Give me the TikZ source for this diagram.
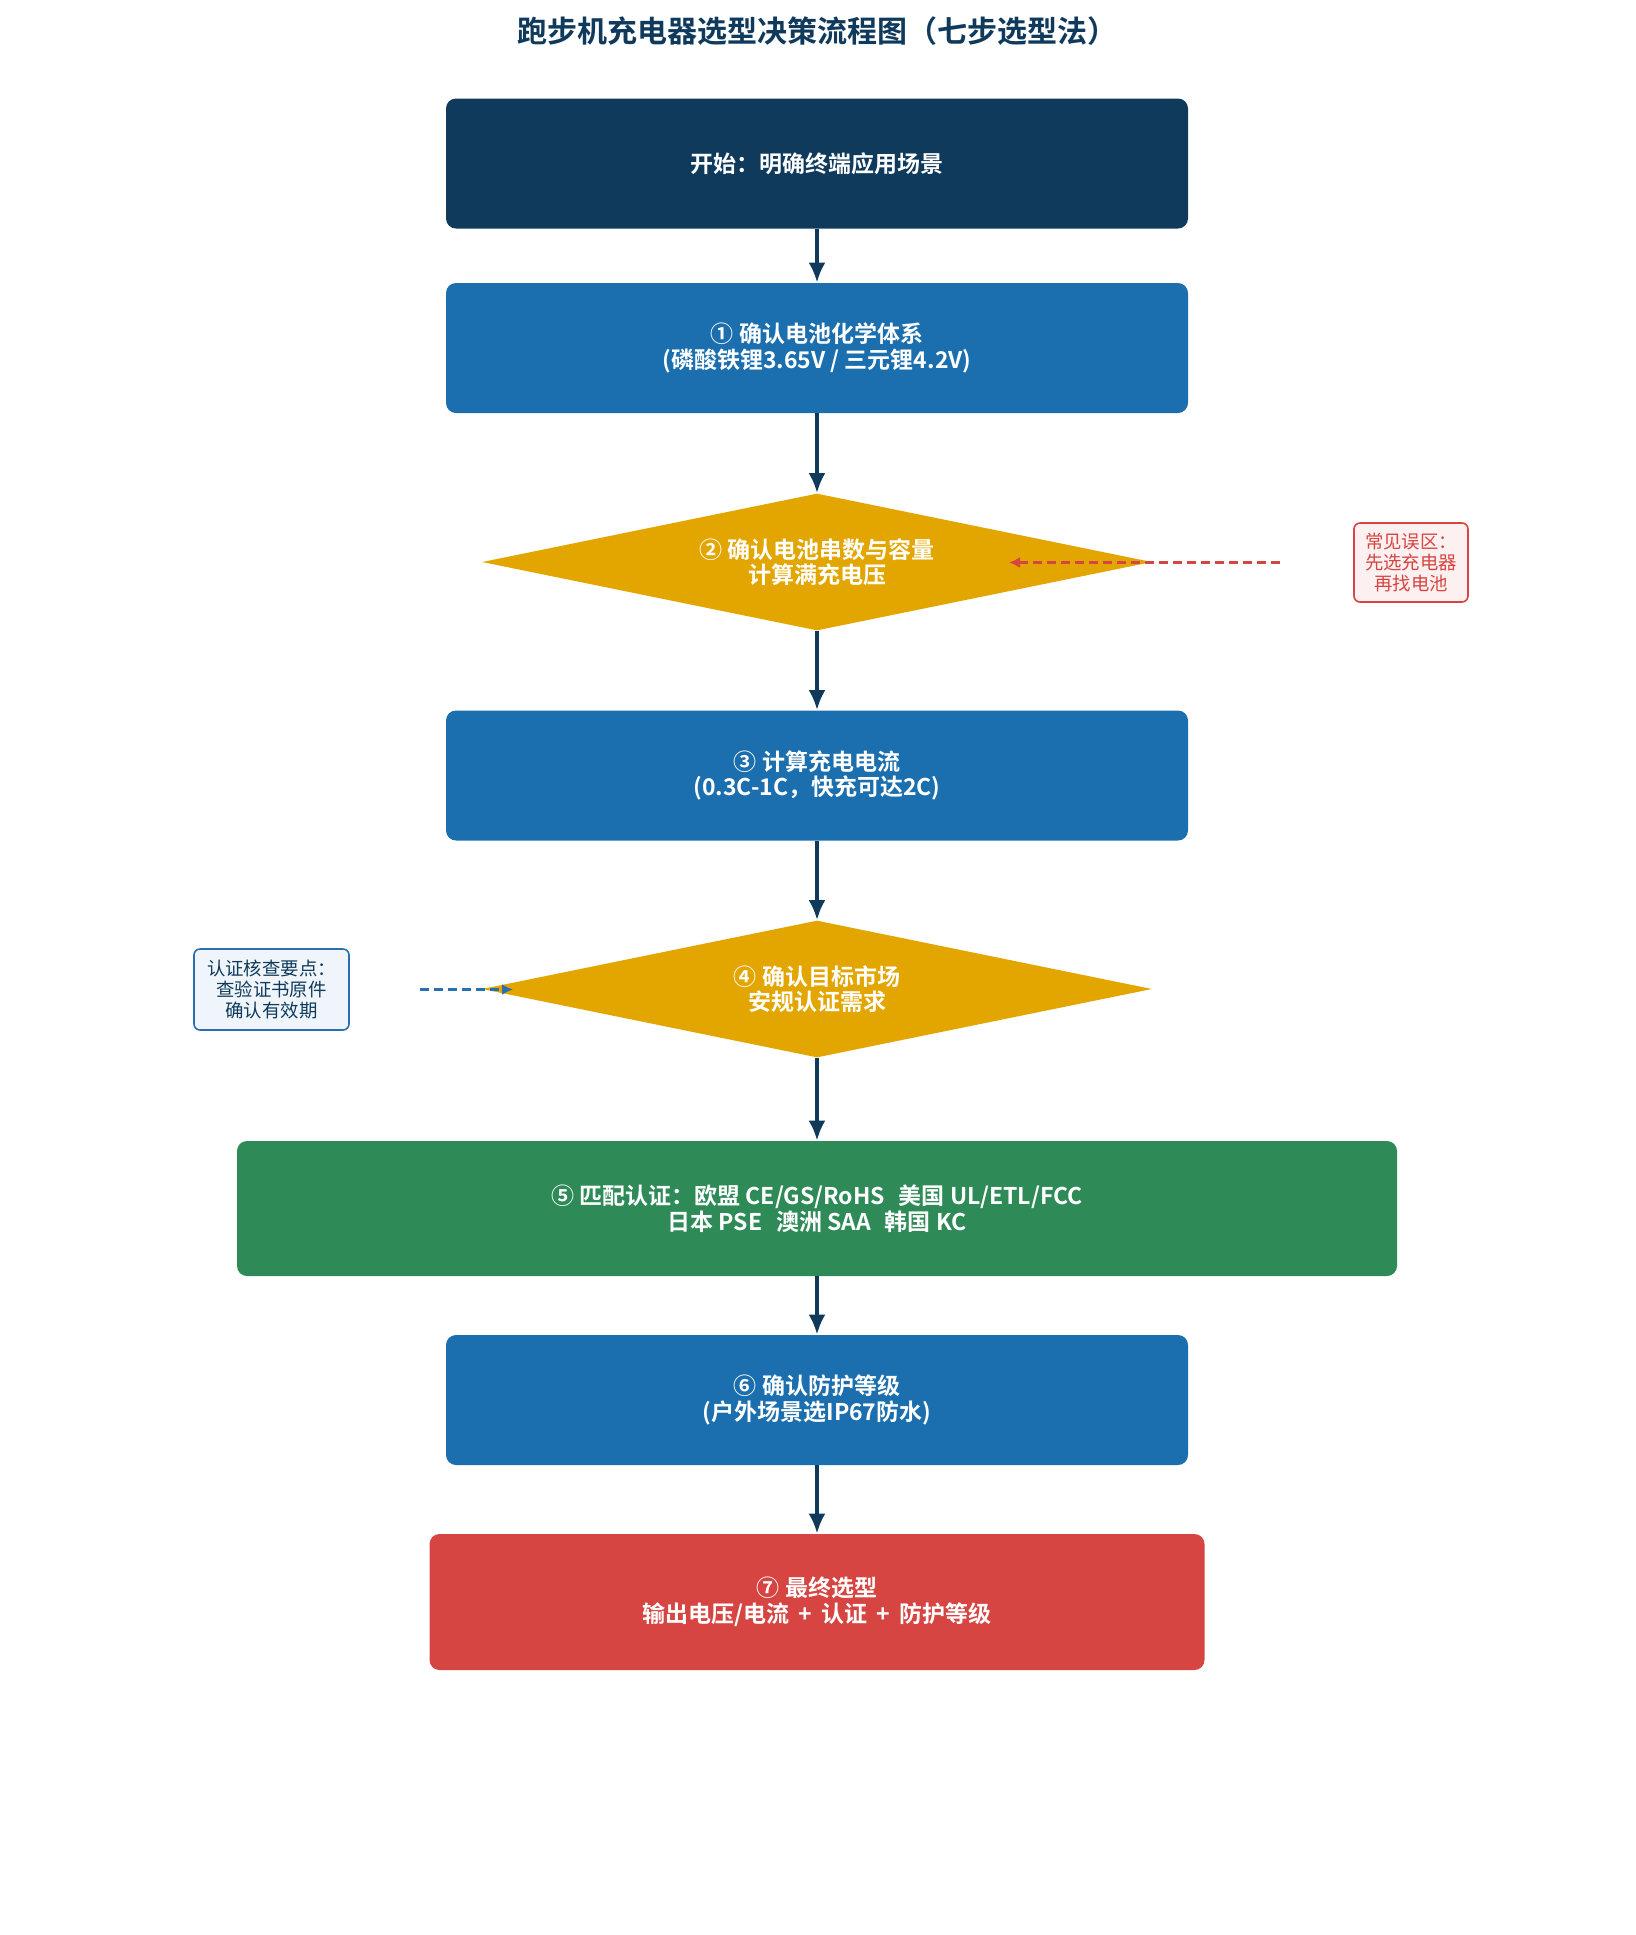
\documentclass[tikz,border=0pt]{standalone}
\usepackage{fontspec}
\setmainfont{Noto Sans CJK SC}[BoldFont={Noto Sans CJK SC Bold}]
\usetikzlibrary{shapes.geometric,arrows.meta}
\definecolor{navy}{HTML}{0F3A5C}
\definecolor{stepblue}{HTML}{1C6FAE}
\definecolor{gold}{HTML}{E3A600}
\definecolor{certgreen}{HTML}{2E8B57}
\definecolor{alertred}{HTML}{D64541}
\definecolor{notepink}{HTML}{FDF0F0}
\definecolor{noteblue}{HTML}{EFF5FA}
\definecolor{noteline}{HTML}{2A6FAF}
\begin{document}
\begin{tikzpicture}[
      x=0.5pt,y=-0.5pt,
      >={Latex[length=10pt,width=8.5pt]},
      box/.style={
        rounded corners=5pt,minimum width=371pt,minimum height=65pt,
        inner sep=0pt,align=center,text=white,
        font=\bfseries\fontsize{11.5}{12.8}\selectfont
      },
      decision/.style={
        diamond,fill=gold,shape aspect=4.89,minimum width=335pt,minimum height=68.5pt,
        inner sep=0pt,align=center,text=white,
        font=\bfseries\fontsize{11.5}{12.8}\selectfont
      },
      note/.style={
        draw,line width=0.8pt,rounded corners=3pt,inner sep=0pt,
        align=center,font=\fontsize{9.2}{10.6}\selectfont
      },
      flow/.style={line width=1.75pt,->,draw=navy},
      hint/.style={line width=1.4pt,-{Latex[length=5.5pt,width=5.5pt]},dash pattern=on 4.5pt off 2.5pt},
    ]
    \useasboundingbox (0,0) rectangle (1635,1935);
    \node[font=\bfseries\fontsize{15}{16}\selectfont,text=navy] (title) at (817,31)
      {跑步机充电器选型决策流程图（七步选型法）};
    \node[box,fill=navy] (start) at (817,163.5) {开始：明确终端应用场景};
    \node[box,fill=stepblue] (s1) at (817,348)
      {① 确认电池化学体系\\(磷酸铁锂3.65V / 三元锂4.2V)};
    \node[decision] (s2) at (817,562) {② 确认电池串数与容量\\计算满充电压};
    \node[box,fill=stepblue] (s3) at (817,775.5)
      {③ 计算充电电流\\(0.3C-1C，快充可达2C)};
    \node[decision] (s4) at (817,989) {④ 确认目标市场\\安规认证需求};
    \node[box,fill=certgreen,minimum width=580pt,minimum height=67.5pt] (s5) at (817,1208.5)
      {⑤ 匹配认证：欧盟 CE/GS/RoHS\hspace{0.6em}美国 UL/ETL/FCC\\日本 PSE\hspace{0.6em}澳洲 SAA\hspace{0.6em}韩国 KC};
    \node[box,fill=stepblue] (s6) at (817,1400)
      {⑥ 确认防护等级\\(户外场景选IP67防水)};
    \node[box,fill=alertred,minimum width=387.5pt,minimum height=68pt] (s7) at (817,1602)
      {⑦ 最终选型\\输出电压/电流\hspace{0.4em}+\hspace{0.4em}认证\hspace{0.4em}+\hspace{0.4em}防护等级};
    % side notes
    \node[note,draw=alertred,fill=notepink,text=alertred,minimum width=57pt,minimum height=39.5pt]
      (warn) at (1411,562.5) {常见误区：\\先选充电器\\再找电池};
    \node[note,draw=noteline,fill=noteblue,text=navy,minimum width=77.5pt,minimum height=40.5pt]
      (cert) at (271.5,989.5) {认证核查要点：\\查验证书原件\\确认有效期};
    \coordinate (warnfrom) at (1280,562.5);
    \coordinate (warnto) at (1009,562.5);
    \coordinate (certfrom) at (420,989.5);
    \coordinate (certto) at (513,989.5);
    \draw[flow] (start) -- (s1);
    \draw[flow] (s1) -- (s2);
    \draw[flow] (s2) -- (s3);
    \draw[flow] (s3) -- (s4);
    \draw[flow] (s4) -- (s5);
    \draw[flow] (s5) -- (s6);
    \draw[flow] (s6) -- (s7);
    \draw[hint,draw=alertred] (warnfrom) -- (warnto);
    \draw[hint,draw=noteline] (certfrom) -- (certto);
  \end{tikzpicture}
\end{document}
